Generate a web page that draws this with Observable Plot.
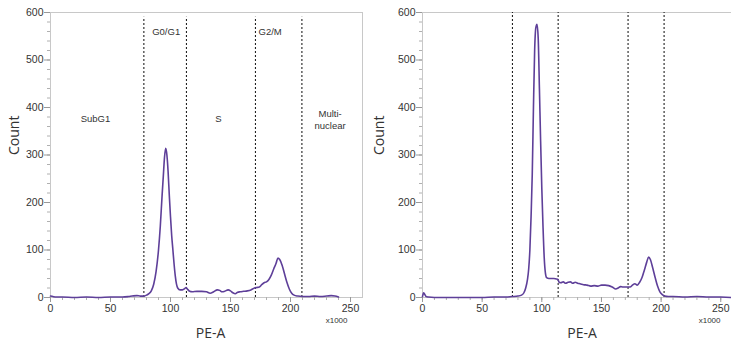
<!DOCTYPE html>
<html><head><meta charset="utf-8">
<script src="https://cdn.jsdelivr.net/npm/d3@7"></script>
<script src="https://cdn.jsdelivr.net/npm/@observablehq/plot@0.6"></script>
<style>
body{margin:0;background:#fff;}
#wrap{display:flex;width:731px;height:349px;overflow:hidden;}
#wrap svg{flex:none;display:block;}
</style></head><body><div id="wrap"></div>
<script>
// Left histogram (PE-A x1000 vs Count)
const leftX =     [0,2,5,10,20,30,40,50,60,65,68,72,75,78,80,82,84,86,88,90,91.5,93,94,95,96,97,98,99,100,101,102,103,104,105,106,108,110,112,113,114,116,118,122,126,130,133,136,139,141,143,145,148,150,152,154,156,158,161,164,167,170,172,174,176,178,180,182,184,186,188,189.5,191,193,195,197,199,201,203,206,210,215,220,225,230,234,237,240];
const leftCount = [3,2,1,1,0,1,0,1,1,2,3,4,3,3,5,8,14,28,55,100,150,215,255,295,314,300,265,215,170,130,100,70,45,28,20,16,16,19,21,18,13,12,13,13,12,9,12,16,15,12,13,16,14,10,8,11,12,13,14,16,20,21,22,27,31,33,38,47,60,72,83,80,68,50,32,18,9,5,3,2,2,3,2,3,4,3,1];
// Right histogram
const rightX =     [0,1,2,3,5,10,20,30,40,50,60,70,75,80,83,85,86.5,88,89,90,91,92,93,94,95,96,97,98,99,100,101,102,103,104,106,108,110,112,113.5,114.5,116,118,120,122,124,126,128,130,132,135,138,141,144,147,150,153,156,159,162,164,166,168,170,172,174,176,178,180,182,184,186,188,189.5,191,193,195,197,199,201,203,206,210,220,230,240,250,259];
const rightCount = [2,10,6,2,1,0,0,0,0,0,1,1,2,3,5,10,20,38,60,100,170,260,400,520,568,575,545,440,330,230,150,85,52,42,40,40,40,39,38,32,31,33,30,32,33,30,32,30,29,27,26,24,25,24,26,26,25,22,18,20,23,22,22,22,22,26,29,26,32,42,58,75,85,80,62,42,24,12,6,3,2,2,1,2,1,1,0];
// Gates (x1000)
const leftGates = [77.8, 113.3, 170.8, 209.5];
const rightGates = [75.4, 113.7, 172.3, 202.5];
// Phase labels (left panel)
const phaseNames = ["SubG1", "G0/G1", "S", "G2/M", "Multi-\nnuclear"];
const phaseX = [37.5, 96.4, 140, 183, 233];
const phaseY = [377, 561, 377, 561, 375];

const xLabel = "PE-A", yLabel = "Count", xUnit = "x1000";

function panel({xs, counts, gates, gateTop, labels, width, marginLeft, marginRight, xMax, countDx, peDx, unitDx}) {
  const data = xs.map((x, i) => ({x, y: counts[i]}));
  const marks = [
    Plot.frame({stroke: "#c8c8c8"}),
    Plot.axisY(d3.range(0, 601, 20), {tickSize: 3, tickFormat: () => "", stroke: "#b0b0b0", label: null}),
    Plot.axisY(d3.range(0, 601, 100), {tickSize: 6, tickPadding: 1, stroke: "#999", label: null}),
    Plot.axisX(d3.range(0, xMax, 10), {tickSize: 3, tickFormat: () => "", stroke: "#b0b0b0", label: null}),
    Plot.axisX(d3.range(0, xMax, 50), {tickSize: 5, tickPadding: 2, stroke: "#999", label: null}),
    Plot.ruleX(gates, {y1: 0, y2: gateTop, stroke: "#222", strokeDasharray: "2,2", strokeWidth: 1.1}),
    Plot.line(data, {x: "x", y: "y", stroke: "#5e3f99", strokeWidth: 1.6, curve: "monotone-x"}),
    Plot.text([yLabel], {frameAnchor: "left", rotate: -90, dx: countDx, fontSize: 14, fontFamily: "Open Sans", fill: "#333"}),
    Plot.text([xLabel], {frameAnchor: "bottom", dx: peDx, dy: 40, fontSize: 14, fontFamily: "Open Sans", fill: "#333"}),
    Plot.text([xUnit], {frameAnchor: "bottom-right", dx: unitDx, dy: 25.5, fontSize: 8, fill: "#333"})
  ];
  if (labels) {
    const ld = labels.names.map((t, i) => ({t, x: labels.x[i], y: labels.y[i]}));
    marks.push(Plot.text(ld, {x: "x", y: "y", text: "t", fontSize: 9.5, fill: "#333", lineHeight: 1.25}));
  }
  return Plot.plot({
    width, height: 349, marginLeft, marginRight, marginTop: 12, marginBottom: 52,
    style: {fontFamily: "Liberation Sans", fontSize: "10.5px", color: "#333", background: "#fff"},
    x: {domain: [0, xMax], label: null},
    y: {domain: [0, 600], label: null},
    marks
  });
}

const wrap = document.getElementById("wrap");
wrap.appendChild(panel({xs: leftX, counts: leftCount, gates: leftGates, gateTop: 590,
  labels: {names: phaseNames, x: phaseX, y: phaseY},
  width: 365, marginLeft: 50, marginRight: 3, xMax: 260, countDx: -36, peDx: 4, unitDx: -15}));
wrap.appendChild(panel({xs: rightX, counts: rightCount, gates: rightGates, gateTop: 600,
  labels: null, width: 366, marginLeft: 57, marginRight: 0, xMax: 259, countDx: -43, peDx: 5, unitDx: -11}));
</script></body></html>
